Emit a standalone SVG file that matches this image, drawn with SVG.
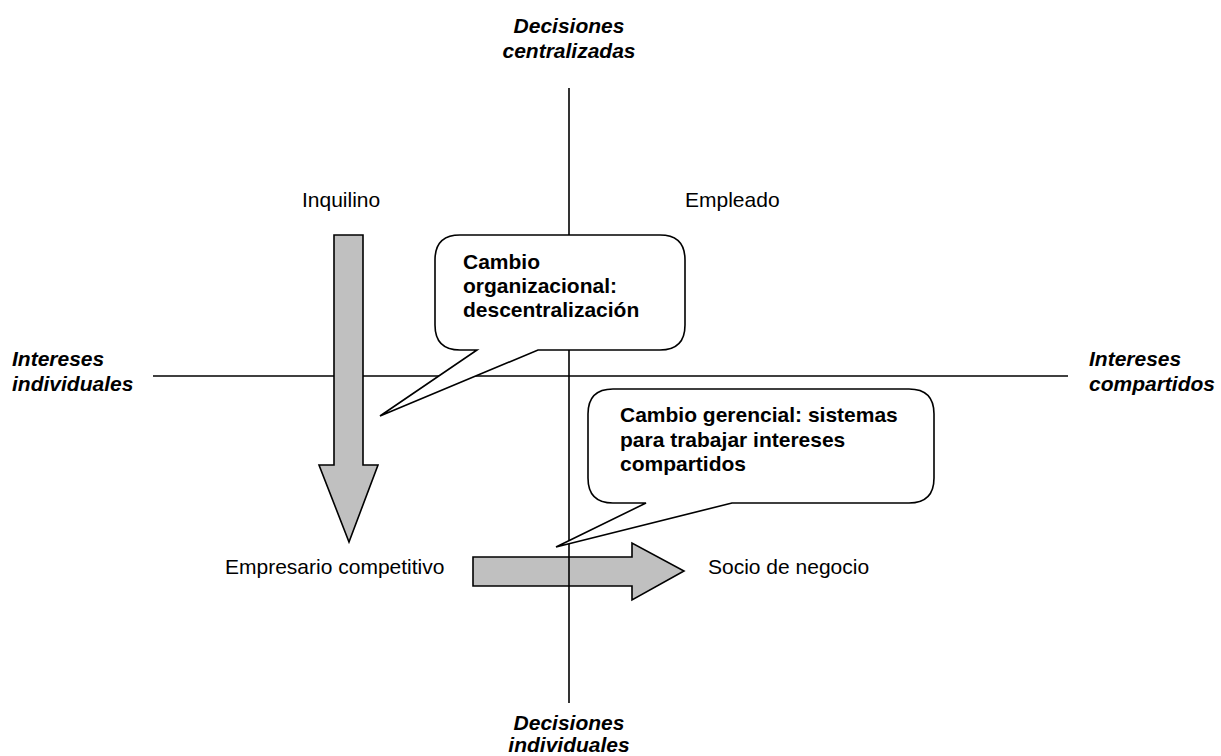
<svg xmlns="http://www.w3.org/2000/svg" width="1221" height="756" viewBox="0 0 1221 756">
<style>
text{font-family:"Liberation Sans",Arial,sans-serif;font-size:21px;fill:#000}
.ax{font-weight:bold;font-style:italic}
.b{font-weight:bold}
.axis{stroke:#000;stroke-width:1.6;fill:none}
.arrow{fill:#c0c0c0;stroke:#000;stroke-width:1.6;stroke-linejoin:miter}
.callout{fill:#fff;stroke:#000;stroke-width:1.6;stroke-linejoin:miter}
</style>
<rect width="1221" height="756" fill="#fff"/>
<g id="connectors">
<line class="axis" x1="153" y1="376" x2="1068" y2="376"/>
<path id="arrow-down" class="arrow" d="M334,235 H363 V465 H378 L349,542 L319,465 H334 Z"/>
<path id="arrow-right" class="arrow" d="M473,557 H632 V543 L684,571 L632,600 V586 H473 Z"/>
<line class="axis" x1="569" y1="88" x2="569" y2="703"/>
</g>
<g id="axis-top"><text class="ax" text-anchor="middle" x="569" y="33">Decisiones</text><text class="ax" text-anchor="middle" x="569" y="58">centralizadas</text></g>
<g id="axis-bottom"><text class="ax" text-anchor="middle" x="569" y="730">Decisiones</text><text class="ax" text-anchor="middle" x="569" y="752">individuales</text></g>
<g id="axis-left"><text class="ax" x="12" y="366">Intereses</text><text class="ax" x="12" y="391">individuales</text></g>
<g id="axis-right"><text class="ax" x="1089" y="366">Intereses</text><text class="ax" x="1089" y="391">compartidos</text></g>
<g id="inquilino"><text x="302" y="207">Inquilino</text></g>
<g id="empleado"><text x="685" y="207">Empleado</text></g>
<g id="empresario"><text x="225" y="574">Empresario competitivo</text></g>
<g id="socio"><text x="708" y="574">Socio de negocio</text></g>
<g id="callout-organizacional">
<path class="callout" d="M460,235 H660 Q685,235 685,260 V325 Q685,350 660,350 H538 L380,416 L477,350 H460 Q435,350 435,325 V260 Q435,235 460,235 Z"/>
<text class="b" x="463" y="269">Cambio</text>
<text class="b" x="463" y="293">organizacional:</text>
<text class="b" x="463" y="317">descentralización</text>
</g>
<g id="callout-gerencial">
<path class="callout" d="M613,389 H909 Q934,389 934,414 V478 Q934,503 909,503 H732 L556,547 L646,503 H613 Q588,503 588,478 V414 Q588,389 613,389 Z"/>
<text class="b" x="620" y="422">Cambio gerencial: sistemas</text>
<text class="b" x="620" y="447">para trabajar intereses</text>
<text class="b" x="620" y="471">compartidos</text>
</g>
</svg>
